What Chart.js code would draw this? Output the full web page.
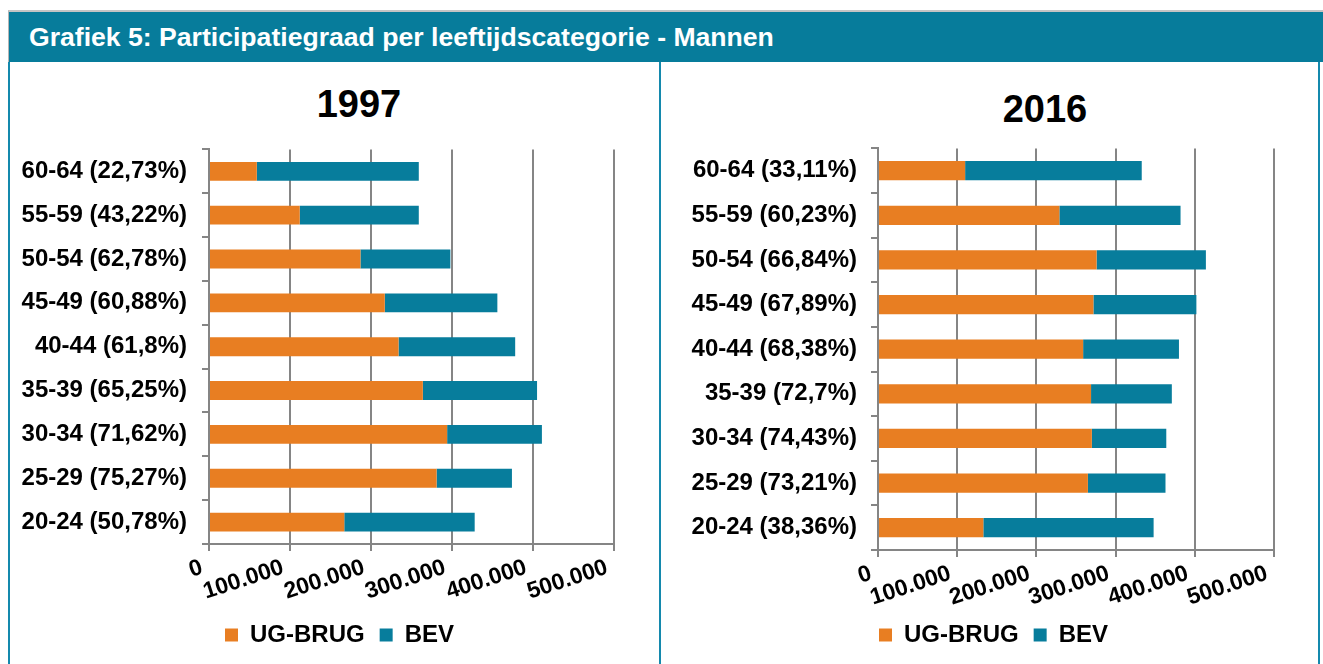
<!DOCTYPE html>
<html>
<head>
<meta charset="utf-8">
<script src="https://cdn.jsdelivr.net/npm/chart.js@4/dist/chart.umd.min.js"></script>
<style>
  html, body { margin: 0; padding: 0; background: #ffffff; width: 1323px; height: 664px; overflow: hidden; }
  body { position: relative; font-family: "Liberation Sans", Arial, sans-serif; }
  #header {
    position: absolute; left: 8px; top: 10px; width: 1311px; height: 50px;
    background: #077c9b; border-top: 2px solid #c4c4c4; border-left: 1px solid #b5b5b5;
    color: #ffffff; font-weight: bold; font-size: 26.6px; line-height: 50px;
    padding-left: 20px; box-sizing: content-box; white-space: nowrap;
  }
  .vline { position: absolute; top: 62px; height: 610px; width: 2px; background: #1489ad; }
  .ctitle { position: absolute; width: 300px; text-align: center; font-weight: bold; font-size: 38px; line-height: 38px; color: #000; }
  canvas { position: absolute; }
</style>
</head>
<body>
<div id="header">Grafiek 5: Participatiegraad per leeftijdscategorie - Mannen</div>
<div class="vline" style="left:8px"></div>
<div class="vline" style="left:659px"></div>
<div class="vline" style="left:1318px"></div>
<div class="ctitle" style="left:209px; top:85px">1997</div>
<div class="ctitle" style="left:895px; top:90px">2016</div>
<canvas id="c1" width="659" height="544" style="left:10px; top:120px"></canvas>
<canvas id="c2" width="663" height="544" style="left:662px; top:120px"></canvas>
<script>
const ageGroups = ['60-64','55-59','50-54','45-49','40-44','35-39','30-34','25-29','20-24'];
const pct1997 = ['22,73%','43,22%','62,78%','60,88%','61,8%','65,25%','71,62%','75,27%','50,78%'];
const pct2016 = ['33,11%','60,23%','66,84%','67,89%','68,38%','72,7%','74,43%','73,21%','38,36%'];
const ugbrug1997 = [59000,112000,187000,217000,234000,264000,294000,281000,167000];
const bev1997 = [200000,147000,111000,139000,144000,141000,117000,93000,161000];
const ugbrug2016 = [110000,229000,276000,272000,259000,269000,270000,265000,133000];
const bev2016 = [223000,153000,138000,130000,121000,102000,94000,98000,215000];
const seriesNames = ['UG-BRUG','BEV'];
const xMax = 500000;
const xStep = 100000;

const ORANGE = '#e87e22';
const TEAL = '#077d9c';
const GRID = '#858585';
const FONT = '"Liberation Sans", Arial, sans-serif';

function fmt(v) {
  return String(v).replace(/\B(?=(\d{3})+(?!\d))/g, '.');
}

function makeChart(id, pct, ug, bev, g) {
  const labels = ageGroups.map((a, i) => a + ' (' + pct[i] + ')');
  return new Chart(document.getElementById(id), {
    type: 'bar',
    data: {
      labels: labels,
      datasets: [
        { label: seriesNames[0], data: ug, backgroundColor: ORANGE, borderWidth: 0, barPercentage: 0.43, categoryPercentage: 1 },
        { label: seriesNames[1], data: bev, backgroundColor: TEAL, borderWidth: 0, barPercentage: 0.43, categoryPercentage: 1 }
      ]
    },
    options: {
      indexAxis: 'y',
      responsive: false,
      animation: false,
      devicePixelRatio: 1,
      layout: { padding: { top: g.padTop, right: 0, bottom: g.padBottom, left: 0 } },
      plugins: {
        title: { display: false },
        tooltip: { enabled: false },
        legend: {
          position: 'bottom',
          labels: {
            color: '#000',
            font: { family: FONT, size: 24, weight: 'bold' },
            boxWidth: 13, boxHeight: 13, padding: 15
          }
        }
      },
      scales: {
        x: {
          stacked: true,
          min: 0, max: xMax,
          afterFit: s => { s.height = g.xHeight; },
          ticks: {
            stepSize: xStep,
            autoSkip: false,
            minRotation: 18, maxRotation: 18,
            labelOffset: -7,
            color: '#000',
            padding: 3,
            font: { family: FONT, size: 23, weight: 'bold' },
            callback: v => fmt(v)
          },
          grid: { color: GRID, lineWidth: 2, tickLength: 7, tickColor: GRID },
          border: { color: GRID, width: 2 }
        },
        y: {
          stacked: true,
          afterFit: s => { s.width = g.yWidth; },
          ticks: {
            color: '#000',
            padding: g.yPad,
            autoSkip: false,
            font: { family: FONT, size: 24, weight: 'bold' }
          },
          grid: { drawOnChartArea: false, offset: true, tickLength: 7, color: GRID, tickColor: GRID, lineWidth: 2 },
          border: { color: GRID, width: 2 }
        },
        yRight: {
          type: 'linear',
          axis: 'y',
          position: 'right',
          afterFit: s => { s.width = g.rightSpace; },
          ticks: { display: false },
          grid: { display: false },
          border: { display: false }
        }
      }
    }
  });
}

makeChart('c1', pct1997, ugbrug1997, bev1997, { padTop: 16, padBottom: 7, xHeight: 64, yWidth: 199, yPad: 15, rightSpace: 55 });
makeChart('c2', pct2016, ugbrug2016, bev2016, { padTop: 26, padBottom: 7, xHeight: 58, yWidth: 216, yPad: 14, rightSpace: 51 });
</script>
</body>
</html>
